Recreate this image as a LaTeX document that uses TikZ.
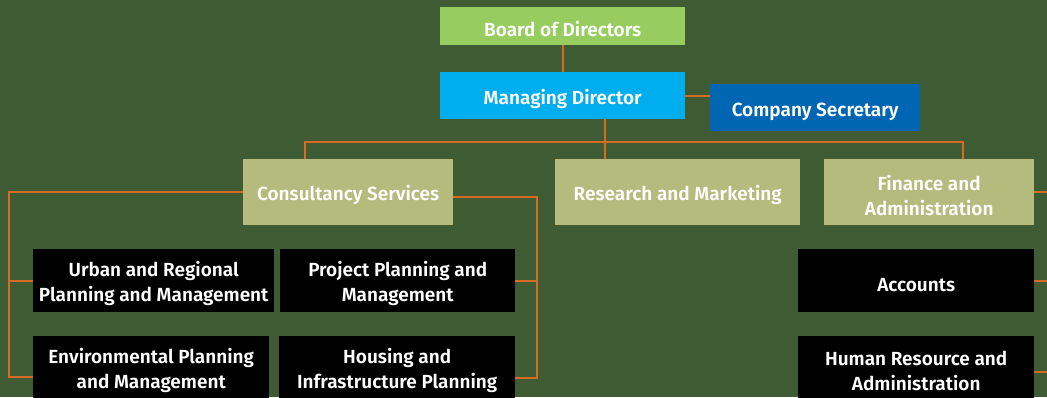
\documentclass[tikz,border=0pt]{standalone}
\usepackage{fontspec}
\setmainfont{Fira Sans}[BoldFont={Fira Sans SemiBold}]
\definecolor{bg}{RGB}{63,91,52}
\definecolor{wire}{RGB}{214,108,36}
\definecolor{boardgreen}{RGB}{151,205,94}
\definecolor{mdcyan}{RGB}{0,174,239}
\definecolor{secblue}{RGB}{0,102,179}
\definecolor{unit}{RGB}{181,186,125}
\newcommand{\toppad}{\rule{0pt}{21pt}}
\tikzset{
  box/.style={anchor=north west,inner sep=0pt,align=center,text=white,
    font=\bfseries\fontsize{19}{25}\selectfont},
  link/.style={draw=wire,line width=1.8pt}
}
\begin{document}
\begin{tikzpicture}[x=1pt,y=-1pt]
  \fill[bg] (0,0) rectangle (1047,397);
  \clip (0,0) rectangle (1047,397);
  \node[box,fill=boardgreen,minimum width=245pt,minimum height=38pt] (board) at (440,7) {\toppad Board of Directors};
  \node[box,fill=mdcyan,minimum width=245pt,minimum height=47pt] (md) at (440,72) {\toppad Managing Director};
  \node[box,fill=secblue,minimum width=210pt,minimum height=47pt] (sec) at (710,84) {\toppad Company Secretary};
  \foreach \n/\x/\w/\t in {cons/243/210/Consultancy Services,research/555/245/Research and Marketing,fin/824/210/Finance and\\Administration}
    {\node[box,fill=unit,minimum width=\w pt,minimum height=66pt] (\n) at (\x,159) {\toppad\t};}
  \foreach \n/\x/\y/\w/\t in {urban/33/249/241/Urban and Regional\\Planning and Management,project/280/249/235/Project Planning and\\Management,env/33/336/236/Environmental Planning\\and Management,housing/279/336/236/Housing and\\Infrastructure Planning,acc/798/249/236/Accounts,hr/798/336/236/Human Resource and\\Administration}
    {\node[box,fill=black,minimum width=\w pt,minimum height=63pt] (\n) at (\x,\y) {\toppad\t};}

  \coordinate (bus) at (605,142);
  \coordinate (busL) at (305,142);
  \coordinate (busR) at (963,142);
  \coordinate (railL) at (9,192);
  \coordinate (railLend) at (9,377);
  \coordinate (railR) at (537,197);
  \coordinate (railRend) at (537,378);
  \coordinate (edge) at (1047,0);
  \coordinate (hrjoin) at (1047,372);

  \draw[link] (board) -- (md);
  \draw[link] (md.east) -- (md.east -| sec.west);
  \draw[link] (md.south -| bus) -- (research.north -| bus);
  \draw[link] (cons.north -| busL) |- (busR) -- (fin.north -| busR);
  \draw[link] (cons.west) -| (railLend) -- (railLend -| env.west);
  \draw[link] (urban.west -| railL) -- (urban.west);
  \draw[link] (cons.east |- railR) -| (railRend) -- (railRend -| housing.east);
  \draw[link] (project.east) -- (project.east -| railR);
  \draw[link] (fin.east) -- (fin.east -| edge);
  \draw[link] (acc.east) -- (acc.east -| edge);
  \draw[link] (hrjoin -| hr.east) -- (hrjoin);
\end{tikzpicture}
\end{document}
